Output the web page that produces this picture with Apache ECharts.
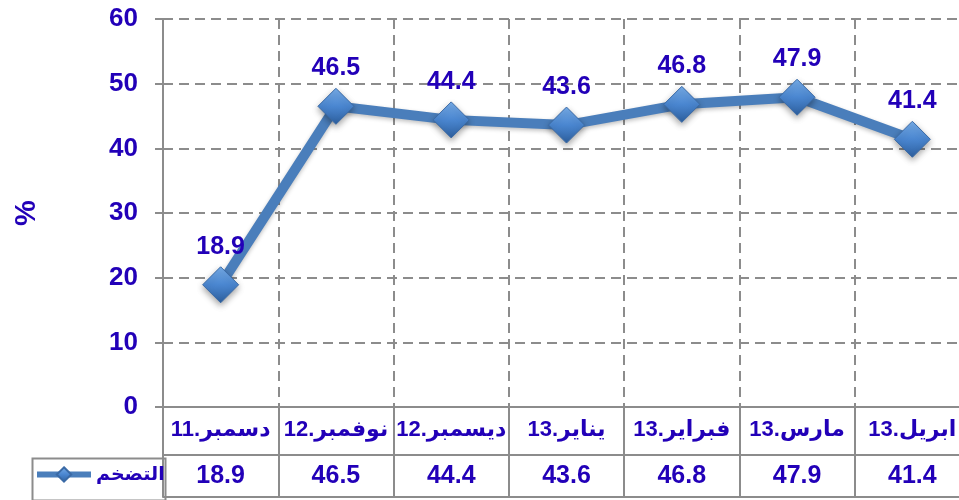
<!DOCTYPE html>
<html><head><meta charset="utf-8">
<script src="https://cdn.jsdelivr.net/npm/echarts@6/dist/echarts.min.js"></script>
<style>html,body{margin:0;padding:0;background:#fff}#c{width:959px;height:500px}</style>
</head><body><div id="c"></div>
<script>
var categories = ['دسمبر.11','نوفمبر.12','ديسمبر.12','يناير.13','فبراير.13','مارس.13','ابريل.13'];
var inflation = [18.9, 46.5, 44.4, 43.6, 46.8, 47.9, 41.4];
var seriesName = 'التضخم';
var yTicks = {min: 0, max: 60, interval: 10};

var BLUE = '#2200b8';
var GRAY = '#8c8c8c';
var FONT = '"Liberation Sans", "DejaVu Sans", Arial, sans-serif';
var chart = echarts.init(document.getElementById('c'), null, {renderer: 'canvas'});
var valueLabels = inflation.map(function(v){ return v.toFixed(1); });

chart.setOption({
  animation: false,
  backgroundColor: '#fff',
  grid: {left: 163, top: 19, width: 807, height: 388, containLabel: false, outerBoundsMode: 'none'},
  legend: {
    left: 34, top: 465, itemWidth: 54, itemHeight: 18, padding: 0, itemGap: 4,
    data: [seriesName],
    lineStyle: {width: 6, color: '#4a7ebb'},
    textStyle: {color: BLUE, fontSize: 19, fontWeight: 'bold', fontFamily: FONT}
  },
  xAxis: [{
    type: 'category', data: categories, boundaryGap: true, position: 'bottom',
    axisLine: {show: true, lineStyle: {color: GRAY, width: 2}},
    axisTick: {show: true, alignWithLabel: false, length: 90, lineStyle: {color: GRAY, width: 2}},
    axisLabel: {color: BLUE, fontSize: 22, fontWeight: 'bold', fontFamily: FONT, margin: 12, interval: 0},
    splitLine: {show: true, lineStyle: {color: GRAY, width: 2, type: [10, 6]}}
  }, {
    type: 'category', data: valueLabels, boundaryGap: true, position: 'bottom', offset: 48,
    axisLine: {show: true, lineStyle: {color: GRAY, width: 2}},
    axisTick: {show: false},
    axisLabel: {color: BLUE, fontSize: 25, fontWeight: 'bold', fontFamily: FONT, margin: 9, interval: 0},
    splitLine: {show: false}
  }, {
    type: 'category', data: valueLabels, boundaryGap: true, position: 'bottom', offset: 90,
    axisLine: {show: true, lineStyle: {color: GRAY, width: 2}},
    axisTick: {show: false}, axisLabel: {show: false}, splitLine: {show: false}
  }],
  yAxis: {
    type: 'value', min: yTicks.min, max: yTicks.max, interval: yTicks.interval,
    name: '%', nameLocation: 'middle', nameGap: 122, nameRotate: 90,
    nameTextStyle: {color: BLUE, fontSize: 29, fontWeight: 'bold', fontFamily: FONT},
    axisLine: {show: true, lineStyle: {color: GRAY, width: 2}},
    axisTick: {show: true, length: 8, lineStyle: {color: GRAY, width: 2}},
    axisLabel: {color: BLUE, fontSize: 26, fontWeight: 'bold', fontFamily: FONT, margin: 25},
    splitLine: {show: true, lineStyle: {color: GRAY, width: 2, type: [10, 6]}}
  },
  graphic: [{
    type: 'rect', left: 30, top: 456, shape: {width: 133, height: 42},
    style: {fill: 'none', stroke: GRAY, lineWidth: 2}, z: 10
  }],
  series: [{
    name: seriesName, type: 'line', data: inflation,
    symbol: 'diamond', symbolSize: 36,
    lineStyle: {color: '#4a7ebb', width: 10, shadowColor: 'rgba(0,0,0,0.25)', shadowBlur: 4, shadowOffsetY: 2},
    itemStyle: {
      color: new echarts.graphic.LinearGradient(0, 0, 0, 1, [
        {offset: 0, color: '#78aeea'}, {offset: 0.5, color: '#4a86d0'}, {offset: 1, color: '#2d5f9e'}
      ]),
      borderColor: '#3a6aa6', borderWidth: 1,
      shadowColor: 'rgba(0,0,0,0.35)', shadowBlur: 6, shadowOffsetY: 3
    },
    label: {show: true, position: 'top', distance: 7, color: BLUE, fontSize: 25, fontWeight: 'bold', fontFamily: FONT,
      formatter: function(p){ return p.value.toFixed(1); }},
    z: 5
  }]
});
</script></body></html>
